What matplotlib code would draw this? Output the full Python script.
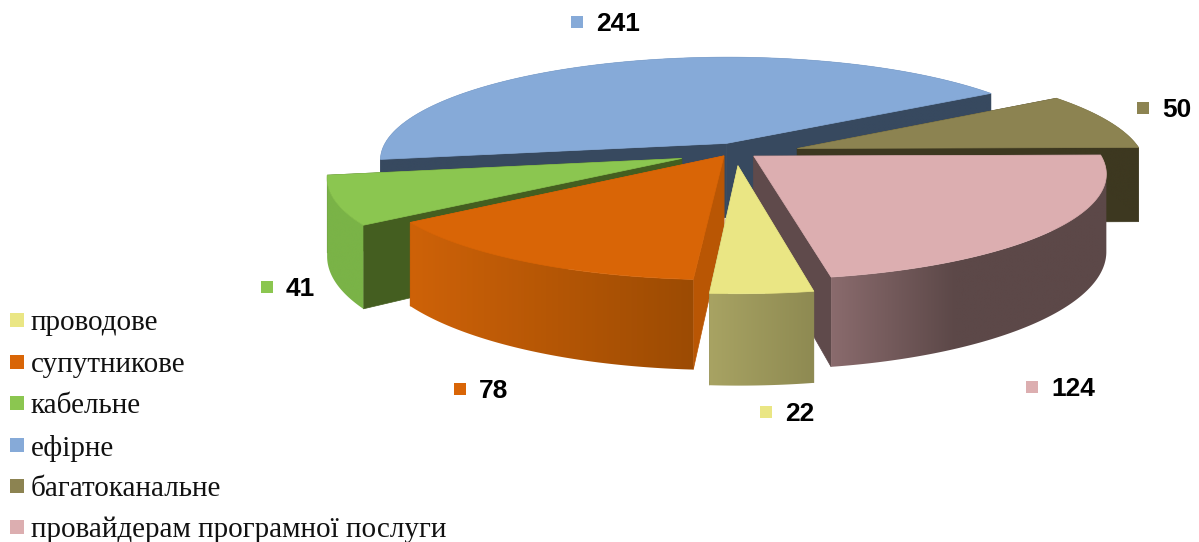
import numpy as np
import matplotlib
matplotlib.use("Agg")
import matplotlib.pyplot as plt
from matplotlib.colors import to_rgb
from matplotlib.patches import Polygon

# Data, clockwise starting at the left edge of the big slice
names = ["ефірне", "багатоканальне", "провайдерам програмної послуги", "проводове", "супутникове", "кабельне"]
values = [241, 50, 124, 22, 78, 41]
legend_order = ["проводове", "супутникове", "кабельне", "ефірне", "багатоканальне", "провайдерам програмної послуги"]

top_colors = ["#86aad8", "#8c8351", "#dcaeb0", "#eae684", "#d96506", "#8bc650"]
cut_colors = ["#37495f", "#3d3820", "#5f4a4b", "#8f8b57", "#b95604", "#445e20"]
wall_left = ["#37495f", "#3d3820", "#8a6b6d", "#a8a363", "#ce6208", "#7ab347"]
wall_right = ["#37495f", "#3d3820", "#5c4848", "#8e8a52", "#9c4b03", "#7ab347"]
wall_reach = [1, 1, 0.45, 1, 1, 1]
explode = [0.07, 0.19, 0.07, 0.15, 0.065, 0.165]
nudge_y = [0, 4, 1.5, 0, 0, 2]
label_pos = [(577, 22), (1143, 108), (1032, 387), (766, 412), (460, 389), (267, 287)]

# Pie geometry in pixels
cx, cy = 735, 150
rx, ry = 345, 102
persp = 0.16
depth = 75
start_angle = 189


def project(px, py, z=0.0):
    s = 1 / (1 - persp * py)
    return cx + px * rx * s, cy + py * ry * s + z * s


fig = plt.figure(figsize=(11.99, 5.42), dpi=100)
ax = fig.add_axes([0, 0, 1, 1])
ax.axis("off")

# Angles of each slice from the values
total = sum(values)
spans = [v / total * 360 for v in values]
starts = start_angle - np.cumsum([0] + spans[:-1])

z = 1
draw_order = [0, 1, 5, 2, 4, 3]
for i in draw_order:
    a0, a1 = starts[i], starts[i] - spans[i]
    mid = np.radians((a0 + a1) / 2)
    ox, oy = explode[i] * np.cos(mid), -explode[i] * np.sin(mid)
    ang = np.radians(np.linspace(a0, a1, 120))
    xs = ox + np.cos(ang)
    ys = oy - np.sin(ang)
    dy = nudge_y[i]

    def pt(x, y, h=0.0):
        sx, sy = project(x, y, h)
        return sx, sy + dy

    # cut faces
    for k in (0, -1):
        face = [pt(ox, oy), pt(xs[k], ys[k]), pt(xs[k], ys[k], depth), pt(ox, oy, depth)]
        ax.add_patch(Polygon(face, closed=True, fc=cut_colors[i], ec=cut_colors[i], lw=0.5, zorder=z))
        z += 1

    # outer wall, gradient image clipped to the wall shape
    rim = [pt(x, y) for x, y in zip(xs, ys)]
    low = [pt(x, y, depth) for x, y in zip(xs, ys)]
    rim_x = [p[0] for p in rim]
    j0, j1 = sorted((int(np.argmax(rim_x)), int(np.argmin(rim_x))))
    wall = Polygon(rim[j0:j1 + 1] + low[j0:j1 + 1][::-1], closed=True, fc="none", ec="none", zorder=z)
    ax.add_patch(wall)
    pts = np.array(rim + low)
    u = np.clip(np.linspace(0, 1, 256) / wall_reach[i], 0, 1)[:, None]
    grad = np.array(to_rgb(wall_left[i])) * (1 - u) + np.array(to_rgb(wall_right[i])) * u
    im = ax.imshow(grad[None, :, :], extent=(pts[:, 0].min(), pts[:, 0].max(), pts[:, 1].max(), pts[:, 1].min()),
                   aspect="auto", zorder=z, interpolation="bilinear")
    im.set_clip_path(wall)
    z += 1

    # top
    ax.add_patch(Polygon([pt(ox, oy)] + rim, closed=True, fc=top_colors[i], ec=top_colors[i], lw=0.5, zorder=z))
    z += 1

ax.set_xlim(0, 1199)
ax.set_ylim(542, 0)

# Data labels
for i in range(len(values)):
    lx, ly = label_pos[i]
    ax.scatter([lx], [ly], marker="s", s=80, color=top_colors[i], linewidths=0, zorder=z)
    ax.text(lx + 19, ly + 2, str(values[i]), family="Liberation Sans", fontweight="bold",
            fontsize=19, color="black", va="center", ha="left", zorder=z)

# Legend
leg_y = [321, 363, 404, 446, 487, 528]
for name, y in zip(legend_order, leg_y):
    i = names.index(name)
    ax.scatter([17], [y - 1], marker="s", s=90, color=top_colors[i], linewidths=0, zorder=z)
    ax.text(31, y + 2, name, family="Liberation Serif", fontsize=21, color="#111111", va="center", ha="left", zorder=z)

fig.savefig("out.png", dpi=100)
